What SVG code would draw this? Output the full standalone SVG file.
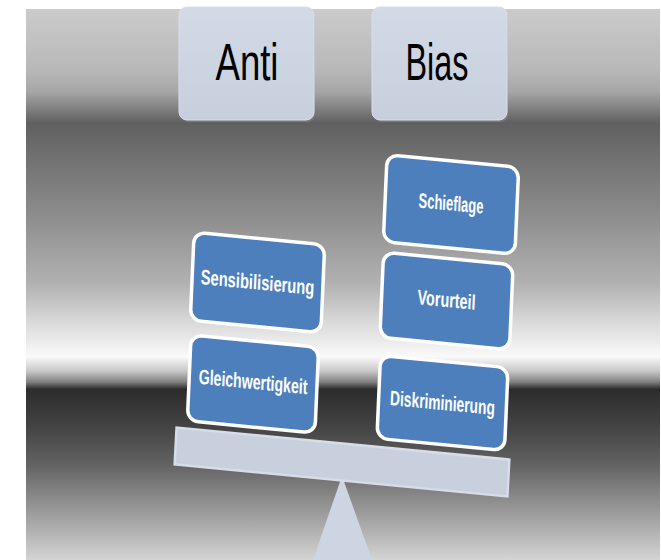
<svg xmlns="http://www.w3.org/2000/svg" width="661" height="560" viewBox="0 0 661 560">
<defs>
<linearGradient id="bg" x1="0" y1="9" x2="0" y2="560" gradientUnits="userSpaceOnUse">
<stop offset="0" stop-color="#cbcbcb"/>
<stop offset="0.11" stop-color="#b8b8b8"/>
<stop offset="0.15" stop-color="#a6a6a6"/>
<stop offset="0.207" stop-color="#606060"/>
<stop offset="0.372" stop-color="#8c8c8c"/>
<stop offset="0.5" stop-color="#b2b2b2"/>
<stop offset="0.566" stop-color="#d8d8d8"/>
<stop offset="0.631" stop-color="#fafafa"/>
<stop offset="0.657" stop-color="#c8c8c8"/>
<stop offset="0.677" stop-color="#808080"/>
<stop offset="0.69" stop-color="#2c2c2c"/>
<stop offset="0.76" stop-color="#444444"/>
<stop offset="0.826" stop-color="#626262"/>
<stop offset="0.89" stop-color="#8c8c8c"/>
<stop offset="0.955" stop-color="#b6b6b6"/>
<stop offset="1" stop-color="#d4d4d4"/>
</linearGradient>
<linearGradient id="topbox" x1="0" y1="0" x2="0" y2="1">
<stop offset="0" stop-color="#d3dae6"/>
<stop offset="1" stop-color="#c7cfdd"/>
</linearGradient>
</defs>
<style>
.top{fill:url(#topbox);stroke:#d8deea;stroke-width:1}
.toptxt{font-family:"Liberation Sans",Arial,sans-serif;font-size:52px;fill:#000;text-anchor:middle}
.blue{fill:#4c7fbc;stroke:#ffffff;stroke-width:3.5}
.btxt{font-family:"Liberation Sans",Arial,sans-serif;font-size:21px;font-weight:bold;fill:#ffffff;text-anchor:middle}
.beam{fill:#c9d0dd;stroke:#d7dde8;stroke-width:2.5}
.fulcrum{fill:#cdd5e3}
</style>
<rect x="26" y="9" width="634" height="551" fill="url(#bg)"/>
<g id="connectors"/>
<g id="node-anti">
<rect x="181" y="10" width="134" height="112" rx="8" fill="#9aa0aa" opacity="0.35"/>
<rect class="top" x="179" y="7" width="135" height="113" rx="8"/>
<text class="toptxt" x="247" y="80" textLength="63" lengthAdjust="spacingAndGlyphs">Anti</text>
</g>
<g id="node-bias">
<rect x="374" y="10" width="134" height="112" rx="8" fill="#9aa0aa" opacity="0.35"/>
<rect class="top" x="372" y="7" width="135" height="113" rx="8"/>
<text class="toptxt" x="437" y="80" textLength="63" lengthAdjust="spacingAndGlyphs">Bias</text>
</g>
<g id="node-fulcrum">
<polygon class="fulcrum" points="342,476 313,560 372,560"/>
</g>
<g id="node-beam" transform="translate(342,462) rotate(3) skewY(2.5)">
<rect class="beam" x="-167" y="-18.5" width="334" height="37"/>
</g>
<g id="node-sensibilisierung" transform="translate(257.5,282.5) rotate(2.5) skewY(3)">
<rect class="blue" x="-65.5" y="-44" width="131" height="88" rx="11"/>
<text class="btxt" x="0" y="7" textLength="114" lengthAdjust="spacingAndGlyphs">Sensibilisierung</text>
</g>
<g id="node-gleichwertigkeit" transform="translate(253,384) rotate(2.5) skewY(3)">
<rect class="blue" x="-64" y="-43" width="128" height="86" rx="11"/>
<text class="btxt" x="0" y="5" textLength="109" lengthAdjust="spacingAndGlyphs">Gleichwertigkeit</text>
</g>
<g id="node-schieflage" transform="translate(451,204.5) rotate(2.5) skewY(3)">
<rect class="blue" x="-66" y="-43.5" width="132" height="87" rx="11"/>
<text class="btxt" x="0" y="6" textLength="65" lengthAdjust="spacingAndGlyphs">Schieflage</text>
</g>
<g id="node-vorurteil" transform="translate(446.5,301) rotate(2.5) skewY(3)">
<rect class="blue" x="-65" y="-42.5" width="130" height="85" rx="11"/>
<text class="btxt" x="0" y="6" textLength="58" lengthAdjust="spacingAndGlyphs">Vorurteil</text>
</g>
<g id="node-diskriminierung" transform="translate(442.5,403) rotate(2.5) skewY(3)">
<rect class="blue" x="-64" y="-41.5" width="128" height="83" rx="11"/>
<text class="btxt" x="0" y="7" textLength="105" lengthAdjust="spacingAndGlyphs">Diskriminierung</text>
</g>
</svg>
